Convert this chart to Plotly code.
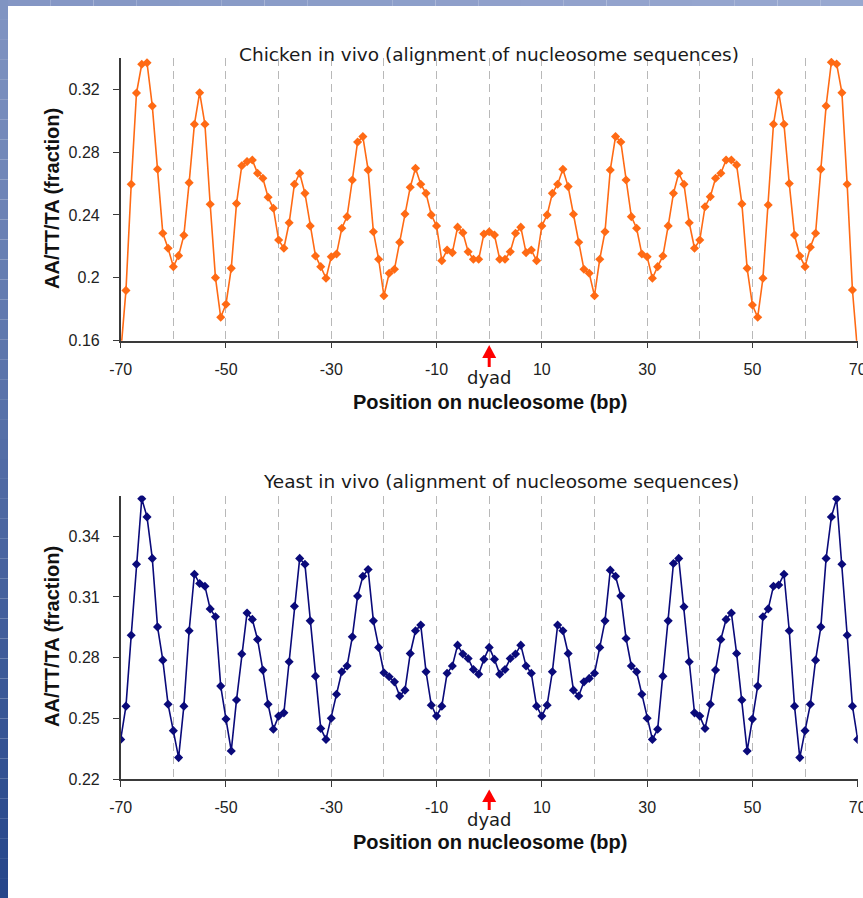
import plotly.graph_objects as go

# canvas slightly larger than the 863x898 window; everything is placed in window pixels
W, H = 900, 930

positions = list(range(-70, 71))

chicken = [
    0.152, 0.192, 0.2595, 0.3175, 0.3358, 0.3368, 0.3093, 0.269, 0.2283, 0.2188,
    0.2071, 0.2141, 0.227, 0.2605, 0.2976, 0.3177, 0.2976, 0.2468, 0.2001, 0.1749,
    0.1832, 0.206, 0.2472, 0.2713, 0.2739, 0.2749, 0.2665, 0.2633, 0.2512, 0.2442,
    0.224, 0.2188, 0.235, 0.2595, 0.2665, 0.2537, 0.233, 0.2139, 0.2071, 0.1997,
    0.2134, 0.2151, 0.2315, 0.2389, 0.2622, 0.2864, 0.2898, 0.2686, 0.2293, 0.2118,
    0.1886, 0.2029, 0.2054, 0.2226, 0.2406, 0.2576, 0.2697, 0.2595, 0.2537, 0.24,
    0.233, 0.2109, 0.2177, 0.216, 0.2322, 0.2287, 0.2166, 0.2118, 0.2118, 0.2279,
    0.2293,
    0.2272, 0.2118, 0.2118, 0.2166, 0.2283, 0.2322, 0.216, 0.2177, 0.2109, 0.233,
    0.24, 0.2537, 0.2595, 0.269, 0.258, 0.2404, 0.2226, 0.2054, 0.2029, 0.1886,
    0.2118, 0.2293, 0.2686, 0.2898, 0.2864, 0.2622, 0.2389, 0.2315, 0.2151, 0.2134,
    0.1997, 0.2071, 0.2139, 0.233, 0.2537, 0.2665, 0.2595, 0.235, 0.2188, 0.224,
    0.2452, 0.2516, 0.2633, 0.2665, 0.2749, 0.2749, 0.2718, 0.247, 0.206, 0.1827,
    0.1749, 0.1997, 0.2463, 0.2976, 0.3177, 0.2976, 0.26, 0.2272, 0.2139, 0.2071,
    0.2194, 0.2283, 0.269, 0.3093, 0.3371, 0.336, 0.3177, 0.2595, 0.1922, 0.152,
]

yeast = [
    0.2397, 0.2561, 0.2911, 0.3261, 0.3585, 0.3495, 0.329, 0.2952, 0.2788, 0.257,
    0.244, 0.2307, 0.2561, 0.2933, 0.3212, 0.3166, 0.3153, 0.3041, 0.3002, 0.266,
    0.2497, 0.234, 0.2591, 0.2818, 0.3021, 0.2989, 0.289, 0.2739, 0.257, 0.2447,
    0.2512, 0.2528, 0.278, 0.3054, 0.329, 0.3261, 0.2982, 0.2709, 0.2451, 0.2397,
    0.2501, 0.262, 0.2731, 0.2759, 0.2903, 0.3104, 0.3202, 0.3235, 0.2982, 0.2851,
    0.2726, 0.2706, 0.2681, 0.2611, 0.264, 0.2821, 0.2933, 0.2961, 0.2731, 0.2566,
    0.2512, 0.2561, 0.2723, 0.2759, 0.2862, 0.2818, 0.2796, 0.2742, 0.2719, 0.2792,
    0.2851,
    0.2792, 0.2719, 0.2742, 0.2796, 0.2818, 0.2862, 0.2759, 0.2723, 0.2561, 0.2512,
    0.2566, 0.2731, 0.2961, 0.2933, 0.2821, 0.264, 0.2611, 0.2681, 0.2698, 0.2723,
    0.2851, 0.2982, 0.3232, 0.3202, 0.3104, 0.2895, 0.2759, 0.2731, 0.262, 0.2501,
    0.2397, 0.2447, 0.2709, 0.2982, 0.3265, 0.329, 0.3051, 0.278, 0.2528, 0.2512,
    0.2451, 0.257, 0.2739, 0.289, 0.2989, 0.3021, 0.2821, 0.2591, 0.234, 0.2497,
    0.266, 0.3002, 0.3041, 0.3153, 0.3159, 0.3212, 0.2933, 0.2561, 0.2307, 0.244,
    0.257, 0.2788, 0.2952, 0.329, 0.3495, 0.3585, 0.3261, 0.2911, 0.2561, 0.2397,
]

x_tickvals = [-70, -50, -30, -10, 10, 30, 50, 70]
x_ticktext = ["-70", "-50", "-30", "-10", "10", "30", "50", "70"]
x_minor_grid = [-60, -40, -20, 0, 20, 40, 60]
chicken_yticks = [0.16, 0.2, 0.24, 0.28, 0.32]
chicken_yticktext = ["0.16", "0.2", "0.24", "0.28", "0.32"]
yeast_yticks = [0.22, 0.25, 0.28, 0.31, 0.34]
yeast_yticktext = ["0.22", "0.25", "0.28", "0.31", "0.34"]

title_top = "Chicken in vivo (alignment of nucleosome sequences)"
title_bottom = "Yeast in vivo (alignment of nucleosome sequences)"
y_title = "AA/TT/TA (fraction)"
x_title = "Position on nucleosome (bp)"

ORANGE = "#ff6a14"
NAVY = "#0a0a7a"
AXIS = "#3a3a3a"
GRID = "#b8b8b8"


def px(x):
    return x / W


def py(y):
    return 1 - y / H


fig = go.Figure()
fig.add_trace(go.Scatter(
    x=positions, y=chicken, mode="lines+markers", xaxis="x", yaxis="y",
    line=dict(color=ORANGE, width=1.6),
    marker=dict(symbol="diamond", size=7, color=ORANGE, line=dict(width=0)),
    showlegend=False, hoverinfo="x+y"))
fig.add_trace(go.Scatter(
    x=positions, y=yeast, mode="lines+markers", xaxis="x2", yaxis="y2",
    line=dict(color=NAVY, width=1.6),
    marker=dict(symbol="diamond", size=7, color=NAVY, line=dict(width=0)),
    showlegend=False, hoverinfo="x+y"))

tickfont = dict(family="Liberation Sans, Arial, sans-serif", size=16, color="#222222")


def xaxis_cfg(anchor):
    return dict(
        domain=[px(120.7), px(857.7)], range=[-70, 70], anchor=anchor,
        automargin=False,
        tickmode="array", tickvals=x_tickvals, ticktext=x_ticktext,
        ticks="outside", ticklen=6, tickwidth=1.3, tickcolor=AXIS,
        showline=True, linecolor=AXIS, linewidth=1.5,
        showgrid=True, gridcolor=GRID, griddash="8px,5px", gridwidth=1,
        minor=dict(tickmode="array", tickvals=x_minor_grid, showgrid=True,
                   gridcolor=GRID, griddash="8px,5px", gridwidth=1, ticks=""),
        zeroline=False, tickfont=tickfont, ticklabelstandoff=7,
        ticklabeloverflow="allow", fixedrange=True)


def yaxis_cfg(anchor, dom, rng, tv, tt):
    return dict(
        domain=dom, range=rng, anchor=anchor, automargin=False,
        tickmode="array", tickvals=tv, ticktext=tt,
        ticks="outside", ticklen=6, tickwidth=1.3, tickcolor=AXIS,
        showline=True, linecolor=AXIS, linewidth=1.5,
        showgrid=False, zeroline=False, tickfont=tickfont,
        ticklabelstandoff=10, ticklabeloverflow="allow", fixedrange=True)


annotations = []
title_font = dict(family="DejaVu Sans, Verdana, sans-serif", size=18.5, color="#1a1a1a")
axis_title_font = dict(family="Liberation Sans, Arial, sans-serif", size=20, color="#111111")

for title, ty in [(title_top, 54), (title_bottom, 481)]:
    annotations.append(dict(text=title, x=px(741), y=py(ty), xref="paper", yref="paper",
                            xanchor="right", yanchor="middle", showarrow=False, font=title_font))
for ty in [199, 637]:
    annotations.append(dict(text="<b>" + y_title + "</b>", x=px(52), y=py(ty), xref="paper",
                            yref="paper", xanchor="center", yanchor="middle", textangle=-90,
                            showarrow=False, font=axis_title_font))
for ty in [402, 842]:
    annotations.append(dict(text="<b>" + x_title + "</b>", x=px(489.5), y=py(ty), xref="paper",
                            yref="paper", xanchor="center", yanchor="middle",
                            showarrow=False, font=axis_title_font))
for xr, ty in [("x", 377), ("x2", 819)]:
    annotations.append(dict(text="dyad", x=0, y=py(ty), xref=xr, yref="paper",
                            xanchor="center", yanchor="middle", showarrow=False,
                            font=dict(family="DejaVu Sans, Verdana, sans-serif", size=18,
                                      color="#1a1a1a")))

shapes = []
# red dyad arrows
for xr, tip, base, tail in [("x", 345, 358, 367), ("x2", 789.5, 802, 810)]:
    hw = 7 / 5.265
    shapes.append(dict(type="path", xref=xr, yref="paper",
                       path=f"M 0,{py(tip)} L {hw},{py(base)} L {-hw},{py(base)} Z",
                       fillcolor="#ff0000", line=dict(width=0), layer="above"))
    shapes.append(dict(type="line", xref=xr, yref="paper", x0=0, x1=0,
                       y0=py(base - 1), y1=py(tail), line=dict(color="#ff0000", width=3),
                       layer="above"))

# slide background border (gradient strips)
n = 45
top_c = (128, 148, 194)
bot_c = (38, 70, 138)
for i in range(n):
    t = i / (n - 1)
    c = tuple(int(round(top_c[k] + (bot_c[k] - top_c[k]) * t)) for k in range(3))
    shapes.append(dict(type="rect", xref="paper", yref="paper",
                       x0=0, x1=px(8), y0=py(898 * (i + 1) / n), y1=py(898 * i / n),
                       fillcolor=f"rgb{c}", line=dict(width=0), layer="above"))
m = 20
l_c = (132, 150, 196)
r_c = (152, 168, 208)
for i in range(m):
    t = i / (m - 1)
    c = tuple(int(round(l_c[k] + (r_c[k] - l_c[k]) * t)) for k in range(3))
    shapes.append(dict(type="rect", xref="paper", yref="paper",
                       x0=px(8 + (863 - 8) * i / m), x1=px(8 + (863 - 8) * (i + 1) / m),
                       y0=py(6), y1=1, fillcolor=f"rgb{c}", line=dict(width=0), layer="above"))

fig.update_layout(
    width=W, height=H, autosize=False,
    margin=dict(l=0, r=0, t=0, b=0, pad=0, autoexpand=False),
    paper_bgcolor="white", plot_bgcolor="white",
    xaxis=xaxis_cfg("y"),
    yaxis=yaxis_cfg("x", [py(340.7), py(57.65)], [0.16, 0.34], chicken_yticks, chicken_yticktext),
    xaxis2=xaxis_cfg("y2"),
    yaxis2=yaxis_cfg("x2", [py(779.3), py(495.6)], [0.22, 0.36], yeast_yticks, yeast_yticktext),
    annotations=annotations, shapes=shapes, showlegend=False,
)

fig.write_html("out.html")
